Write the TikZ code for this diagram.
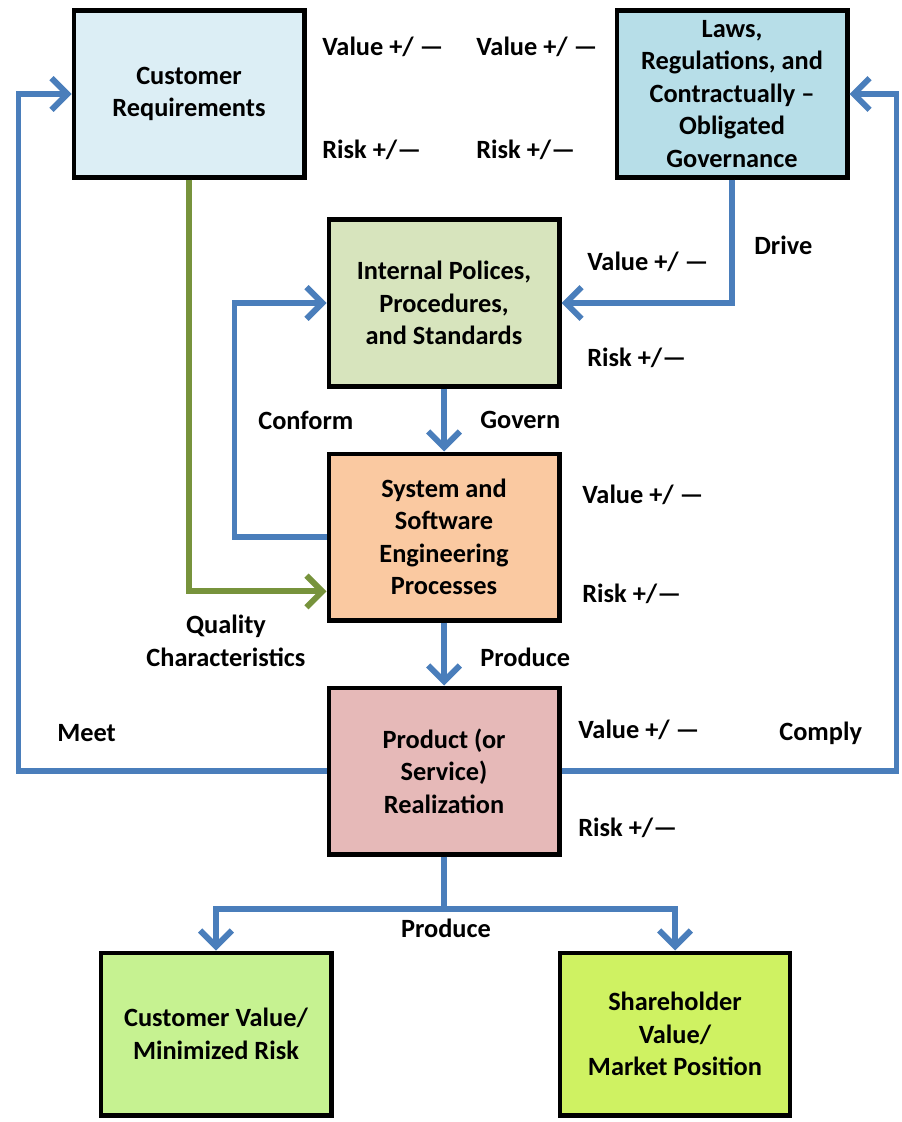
\documentclass[tikz,border=0pt]{standalone}
\usepackage{fontspec}
\setmainfont{Carlito}
\usetikzlibrary{arrows.meta}
\definecolor{flowblue}{HTML}{4A7EBB}
\definecolor{flowgreen}{HTML}{77933C}
\definecolor{reqblue}{HTML}{DCEEF5}
\definecolor{lawblue}{HTML}{B7DEE8}
\definecolor{polgreen}{HTML}{D7E4BD}
\definecolor{procpeach}{HTML}{FAC9A1}
\definecolor{prodpink}{HTML}{E6B9B8}
\definecolor{valgreen}{HTML}{C6F291}
\definecolor{shgreen}{HTML}{CFF262}

\begin{document}
\begin{tikzpicture}[x=0.02cm,y=-0.02cm,font=\fontsize{15}{18.5}\selectfont\bfseries,
    >={Straight Barb[length=9pt,width=18pt]},
    box/.style={draw,line width=2.3pt,align=center,minimum width=4.62cm,minimum height=3.34cm,inner sep=2pt},
    flow/.style={->,flowblue,line width=3.4pt},
    lbl/.style={anchor=west,inner sep=0pt}]
            \useasboundingbox (0,0) rectangle (902,1122);
            % boxes
            \node[box,fill=reqblue] (req) at (189,94) {Customer\\Requirements};
            \node[box,fill=lawblue] (laws) at (732,94) {Laws,\\Regulations, and\\Contractually –\\Obligated\\Governance};
            \node[box,fill=polgreen] (pol) at (444,303) {Internal Polices,\\Procedures,\\and Standards};
            \node[box,fill=procpeach] (proc) at (444,537) {System and\\Software\\Engineering\\Processes};
            \node[box,fill=prodpink] (prod) at (444,771) {Product (or\\Service)\\Realization};
            \node[box,fill=valgreen,minimum height=3.26cm] (custval) at (216,1034) {Customer Value/\\Minimized Risk};
            \node[box,fill=shgreen,minimum width=4.6cm,minimum height=3.26cm] (shval) at (675,1034) {Shareholder\\Value/\\Market Position};

            % feedback loops
            \draw[flow] (prod.west) -- ++(-308,0) |- (req.west);
            \draw[flow] (prod.east) -- ++(335,0) |- (laws.east);
            \draw[flow,flowgreen] (req.south) |- ([yshift=-31pt]proc.west);
            \draw[flow] (laws.south) |- (pol.east);
            \draw[flow] (proc.west) -- ++(-92,0) |- (pol.west);

            % main chain
            \draw[flow] (pol) -- (proc);
            \draw[flow] (proc) -- (prod);
            \draw[flow] (prod.south) -- ++(0,52) -| (custval.north);
            \draw[flow] (prod.south) -- ++(0,52) -| (shval.north);

            % labels
            \node[lbl] (v1) at (322,47) {Value +/ —};
            \node[lbl] (r1) at (322,150) {Risk +/—};
            \node[lbl] (v2) at (476,47) {Value +/ —};
            \node[lbl] (r2) at (476,150) {Risk +/—};
            \node[lbl] (drive) at (754,245) {Drive};
            \node[lbl] (v3) at (587,262) {Value +/ —};
            \node[lbl] (r3) at (587,358) {Risk +/—};
            \node[lbl] (conform) at (258,420) {Conform};
            \node[lbl] (govern) at (480,420) {Govern};
            \node[lbl] (v4) at (582,495) {Value +/ —};
            \node[lbl] (r4) at (582,594) {Risk +/—};
            \node[align=center,inner sep=0pt] (quality) at (226,641) {Quality\\Characteristics};
            \node[lbl] (produce1) at (480,657) {Produce};
            \node[lbl] (meet) at (57,733) {Meet};
            \node[lbl] (v5) at (578,730) {Value +/ —};
            \node[lbl] (comply) at (779,733) {Comply};
            \node[lbl] (r5) at (578,828) {Risk +/—};
            \node[inner sep=0pt] (produce2) at (446,928) {Produce};
        \end{tikzpicture}
\end{document}
